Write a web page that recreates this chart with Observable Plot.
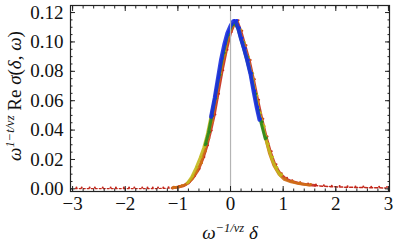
<!DOCTYPE html>
<html><head><meta charset="utf-8">
<script src="https://cdn.jsdelivr.net/npm/d3@7"></script>
<script src="https://cdn.jsdelivr.net/npm/@observablehq/plot@0.6"></script>
<style>body{margin:0;background:#fff} svg text{font-family:"Liberation Serif","Times New Roman","DejaVu Serif",serif !important;}</style>
</head><body><div id="chart"></div>
<script>
// Data series: [x, y]
const redPts = [[-2.95,0.0002],[-2.85,0.0002],[-2.7,0.0002],[-2.6,0.0002],[-2.45,0.0002],[-2.3,0.0002],[-2.2,0.0002],[-2.05,0.0002],[-1.95,0.0002],[-1.85,0.0002],[-1.7,0.0002],[-1.6,0.0002],[-1.5,0.0002],[-1.4,0.0002],[-1.3,0.0003],[-1.2,0.0004],[-1.1,0.0006],[-1.0,0.0012],[-0.90,0.002],[-0.80,0.004],[-0.70,0.008],[-0.61,0.013],[-0.52,0.021],[-0.45,0.029],[-0.38,0.039],[-0.31,0.050],[-0.24,0.064],[-0.16,0.080],[-0.08,0.094],[0.00,0.106],[0.07,0.112],[0.13,0.114],[0.20,0.107],[0.28,0.097],[0.36,0.087],[0.44,0.074],[0.52,0.060],[0.60,0.047],[0.68,0.035],[0.76,0.025],[0.85,0.016],[0.95,0.010],[1.05,0.0068],[1.15,0.0052],[1.30,0.0038],[1.45,0.0029],[1.60,0.0023],[1.75,0.0018],[1.90,0.0015],[2.05,0.0013],[2.2,0.0011],[2.35,0.0010],[2.5,0.0009],[2.65,0.0008],[2.8,0.0007],[2.95,0.0006]];
const orangePts = [[-1.10,0.0006],[-0.95,0.0016],[-0.85,0.003],[-0.75,0.006],[-0.66,0.011],[-0.57,0.017],[-0.50,0.025],[-0.43,0.034],[-0.36,0.045],[-0.28,0.061],[-0.20,0.077],[-0.12,0.091],[-0.04,0.104],[0.04,0.111],[0.11,0.113],[0.18,0.107],[0.26,0.097],[0.34,0.087],[0.42,0.074],[0.50,0.059],[0.58,0.047],[0.66,0.035],[0.74,0.024],[0.82,0.016],[0.92,0.010],[1.02,0.0064],[1.15,0.0047],[1.30,0.0035],[1.50,0.0025]];
const yellowPts = [[-0.82,0.004],[-0.74,0.008],[-0.66,0.014],[-0.58,0.021],[-0.51,0.028],[-0.45,0.036],[-0.38,0.048],[-0.30,0.062],[-0.22,0.078],[-0.13,0.093],[-0.05,0.105],[0.03,0.112],[0.10,0.113],[0.16,0.108],[0.24,0.099],[0.32,0.089],[0.40,0.078],[0.48,0.063],[0.55,0.051],[0.62,0.042],[0.70,0.030],[0.78,0.021],[0.86,0.014],[0.95,0.009]];
const greenPts = [[-0.48,0.030],[-0.42,0.038],[-0.36,0.049],[-0.30,0.061],[-0.22,0.077],[-0.14,0.092],[-0.06,0.104],[0.02,0.111],[0.08,0.113],[0.14,0.109],[0.22,0.099],[0.30,0.089],[0.38,0.078],[0.46,0.064],[0.52,0.053],[0.58,0.045],[0.66,0.034]];
const bluePts = [[-0.37,0.049],[-0.30,0.062],[-0.24,0.075],[-0.18,0.088],[-0.12,0.098],[-0.06,0.106],[0.00,0.111],[0.05,0.114],[0.10,0.114],[0.15,0.109],[0.20,0.102],[0.26,0.095],[0.32,0.087],[0.38,0.078],[0.44,0.066],[0.50,0.055],[0.55,0.047]];

const seriesNames = ["red","orange","yellow","green","blue"];
const seriesColors = ["#c4281c","#cf6f16","#c2b81c","#2a8a1e","#1a2ee2"];
const seriesWidths = [2.8,2.8,2.8,3.0,4.0];

const xTicks = [-3,-2,-1,0,1,2,3];
const yTicks = [0,0.02,0.04,0.06,0.08,0.10,0.12];
const xMinor = d3.range(-15,16).map(d => d/5);
const yMinor = d3.range(0,25).map(d => d*0.005);

const allPts = [redPts, orangePts, yellowPts, greenPts, bluePts];
const rows = allPts.map((pts, i) => pts.map(([x, y]) => ({x, y, s: seriesNames[i]})));

const marks = [];
// red tails, sparse dotted
marks.push(Plot.line(rows[0].filter(d => d.x <= -1.0), {x: "x", y: "y", stroke: seriesColors[0], strokeWidth: 1.2, strokeDasharray: "2 2"}));
marks.push(Plot.line(rows[0].filter(d => d.x >= 1.5), {x: "x", y: "y", stroke: seriesColors[0], strokeWidth: 1.5, strokeDasharray: "3 2"}));
rows.forEach((r, i) => {
  const core = i === 0 ? r.filter(d => d.x >= -1.1 && d.x <= 1.6) : r;
  marks.push(Plot.line(core, {x: "x", y: "y", stroke: seriesColors[i], strokeWidth: seriesWidths[i], strokeOpacity: 0.9}));
  marks.push(Plot.dot(r, {x: "x", y: "y", r: i === 0 ? 1.0 : 1.3, fill: seriesColors[i], dx: 1.2, dy: -1}));
});

marks.push(Plot.ruleX([0], {stroke: "#b4b4b4", strokeWidth: 1.2}));
marks.push(Plot.frame({stroke: "#222", strokeWidth: 1.2}));
// axes with inward ticks
const ax = {stroke: "#222", strokeWidth: 1};
const lab = {fontSize: 19, fill: "#111"};
marks.push(Plot.axisX(xTicks, {anchor: "bottom", tickSize: -5, tickPadding: 10, label: null, ...ax, ...lab}));
marks.push(Plot.axisX(xMinor, {anchor: "bottom", tickSize: -2.5, tickFormat: () => "", label: null, ...ax}));
marks.push(Plot.axisX(xTicks, {anchor: "top", tickSize: -5, tickFormat: () => "", label: null, ...ax}));
marks.push(Plot.axisX(xMinor, {anchor: "top", tickSize: -2.5, tickFormat: () => "", label: null, ...ax}));
marks.push(Plot.axisY(yTicks, {anchor: "left", tickSize: -5, tickPadding: 12, tickFormat: d3.format(".2f"), label: null, ...ax, ...lab}));
marks.push(Plot.axisY(yMinor, {anchor: "left", tickSize: -2.5, tickFormat: () => "", label: null, ...ax}));
marks.push(Plot.axisY(yTicks, {anchor: "right", tickSize: -5, tickFormat: () => "", label: null, ...ax}));
marks.push(Plot.axisY(yMinor, {anchor: "right", tickSize: -2.5, tickFormat: () => "", label: null, ...ax}));

const chart = Plot.plot({
  width: 395, height: 247,
  marginLeft: 70, marginRight: 6, marginTop: 5, marginBottom: 56,
  x: {domain: [-3.04, 3.02]},
  y: {domain: [-0.0018, 0.1248]},
  style: {fontSize: "19px", color: "#111", background: "#fff"},
  marks
});
document.getElementById("chart").append(chart);

const svg = d3.select(chart);
const xl = svg.append("text").attr("x", 230).attr("y", 239).attr("text-anchor", "middle")
  .attr("font-size", 19).attr("fill", "#111");
xl.append("tspan").attr("font-style", "italic").text("ω");
xl.append("tspan").attr("dy", -7.5).attr("font-size", 12.5).attr("font-style", "italic").text("−1/νz");
xl.append("tspan").attr("dy", 7.5).text(" ");
xl.append("tspan").attr("font-style", "italic").text("δ");

const yl = svg.append("text").attr("transform", "translate(21,96) rotate(-90)").attr("text-anchor", "middle")
  .attr("font-size", 19).attr("fill", "#111");
yl.append("tspan").attr("font-style", "italic").text("ω");
yl.append("tspan").attr("dy", -7.5).attr("font-size", 12.5).attr("font-style", "italic").text("1−t/νz");
yl.append("tspan").attr("dy", 7.5).text(" Re ");
yl.append("tspan").attr("font-style", "italic").text("σ");
yl.append("tspan").text("(");
yl.append("tspan").attr("font-style", "italic").text("δ");
yl.append("tspan").text(", ");
yl.append("tspan").attr("font-style", "italic").text("ω");
yl.append("tspan").text(")");
</script>
</body></html>
